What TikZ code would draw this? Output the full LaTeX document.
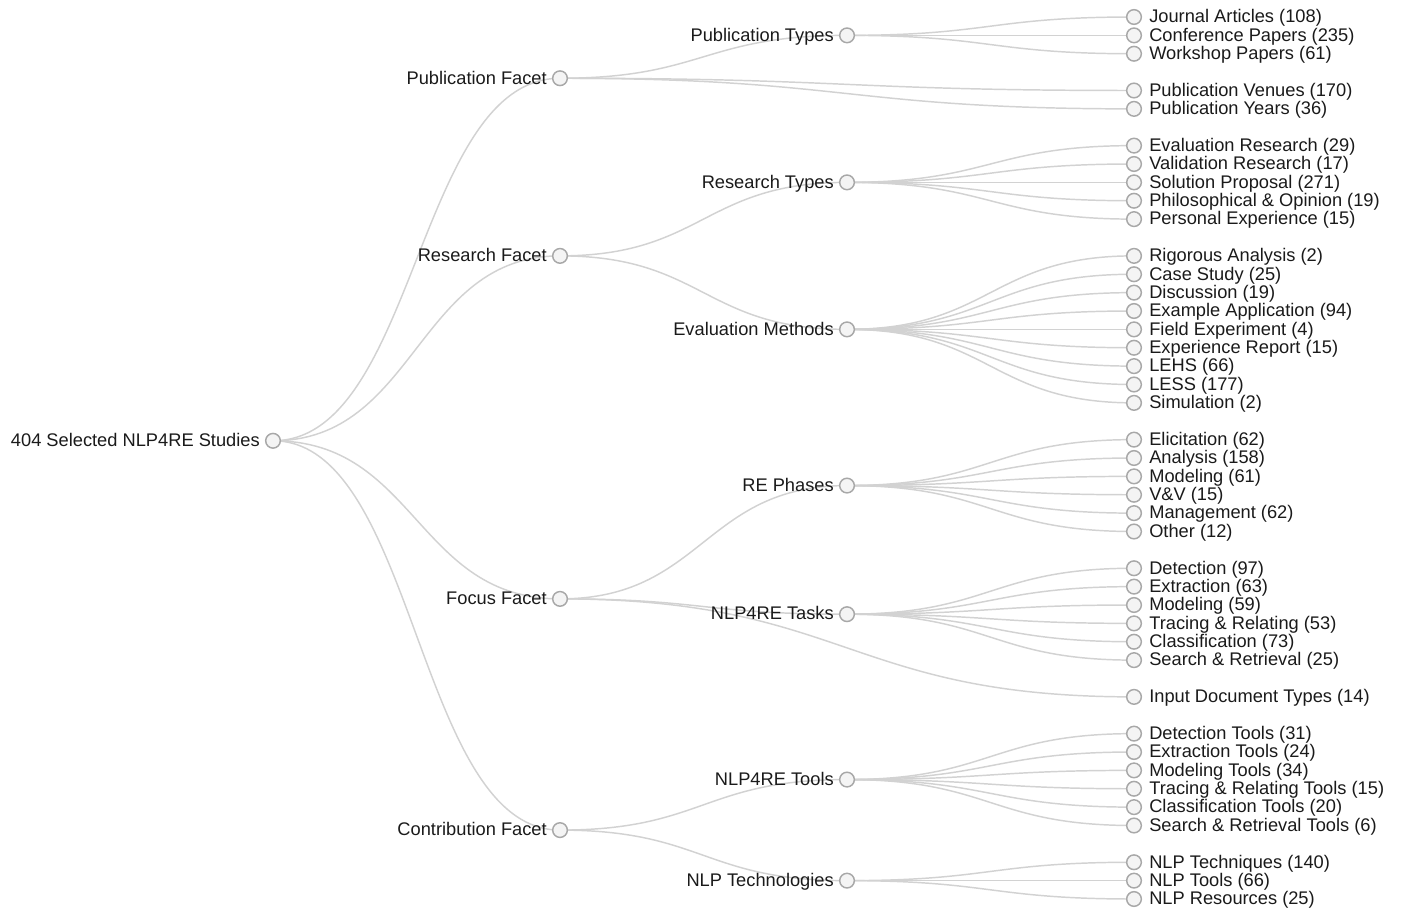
\documentclass[tikz,border=0pt]{standalone}
\usepackage{fontspec}
\setmainfont{Liberation Sans}
\usetikzlibrary{calc,backgrounds}
\definecolor{linkc}{HTML}{D2D2D2}
\definecolor{dotc}{HTML}{A8A8A8}
\definecolor{dotf}{HTML}{F4F4F4}
\definecolor{txtc}{HTML}{1A1A1A}
\tikzset{
  dot/.style={circle, draw=dotc, fill=dotf, line width=1.1pt, minimum size=11pt, inner sep=0pt},
  lblr/.style={anchor=base west, inner sep=0pt, text=txtc, font=\fontsize{13.7}{16}\selectfont},
  lbll/.style={anchor=base east, inner sep=0pt, text=txtc, font=\fontsize{13.7}{16}\selectfont},
  link/.style={draw=linkc, line width=1.1pt},
}
\newcommand\leafnode[3]{%
  \node[dot] (#1) at (1134,{17+#2*18.375}) {};
  \node[lblr] (#1-t) at ([shift={(15,5.8)}]#1.center) {#3};}
\newcommand\innode[4]{%
  \node[dot] (#1) at (#2,{17+#3*18.375}) {};
  \node[lbll] (#1-t) at ([shift={(-13,5.8)}]#1.center) {#4};}
\newcommand\lnk[2]{%
  \draw[link] let \p1=(#1.center), \p2=(#2.center) in
    (\p1) .. controls ({(\x1+\x2)/2},\y1) and ({(\x1+\x2)/2},\y2) .. (\p2);}
\begin{document}
\begin{tikzpicture}[x=0.75pt,y=-0.75pt]
\useasboundingbox (0,0) rectangle (1401,909);
% root and level 1
\innode{root}{273}{23.0625}{404 Selected NLP4RE Studies}
\innode{pf}{560}{3.33333}{Publication Facet}
\innode{rf}{560}{13}{Research Facet}
\innode{ff}{560}{31.66667}{Focus Facet}
\innode{cf}{560}{44.25}{Contribution Facet}
% level 2
\innode{pt}{847}{1}{Publication Types}
\innode{rt}{847}{9}{Research Types}
\innode{em}{847}{17}{Evaluation Methods}
\innode{rp}{847}{25.5}{RE Phases}
\innode{nt}{847}{32.5}{NLP4RE Tasks}
\innode{tl}{847}{41.5}{NLP4RE Tools}
\innode{tc}{847}{47}{NLP Technologies}
% leaves
\leafnode{ja}{0}{Journal Articles (108)}
\leafnode{cp}{1}{Conference Papers (235)}
\leafnode{wp}{2}{Workshop Papers (61)}
\leafnode{pv}{4}{Publication Venues (170)}
\leafnode{py}{5}{Publication Years (36)}
\leafnode{er}{7}{Evaluation Research (29)}
\leafnode{vr}{8}{Validation Research (17)}
\leafnode{sp}{9}{Solution Proposal (271)}
\leafnode{po}{10}{Philosophical \& Opinion (19)}
\leafnode{pe}{11}{Personal Experience (15)}
\leafnode{ra}{13}{Rigorous Analysis (2)}
\leafnode{cs}{14}{Case Study (25)}
\leafnode{di}{15}{Discussion (19)}
\leafnode{ea}{16}{Example Application (94)}
\leafnode{fe}{17}{Field Experiment (4)}
\leafnode{xr}{18}{Experience Report (15)}
\leafnode{lh}{19}{LEHS (66)}
\leafnode{ls}{20}{LESS (177)}
\leafnode{si}{21}{Simulation (2)}
\leafnode{el}{23}{Elicitation (62)}
\leafnode{an}{24}{Analysis (158)}
\leafnode{mo}{25}{Modeling (61)}
\leafnode{vv}{26}{V\&V (15)}
\leafnode{ma}{27}{Management (62)}
\leafnode{ot}{28}{Other (12)}
\leafnode{de}{30}{Detection (97)}
\leafnode{ex}{31}{Extraction (63)}
\leafnode{md}{32}{Modeling (59)}
\leafnode{tr}{33}{Tracing \& Relating (53)}
\leafnode{cl}{34}{Classification (73)}
\leafnode{sr}{35}{Search \& Retrieval (25)}
\leafnode{id}{37}{Input Document Types (14)}
\leafnode{dt}{39}{Detection Tools (31)}
\leafnode{et}{40}{Extraction Tools (24)}
\leafnode{mt}{41}{Modeling Tools (34)}
\leafnode{tt}{42}{Tracing \& Relating Tools (15)}
\leafnode{ct}{43}{Classification Tools (20)}
\leafnode{st}{44}{Search \& Retrieval Tools (6)}
\leafnode{nq}{46}{NLP Techniques (140)}
\leafnode{nl}{47}{NLP Tools (66)}
\leafnode{nr}{48}{NLP Resources (25)}
\begin{pgfonlayer}{background}
\foreach \c in {pf,rf,ff,cf} {\lnk{root}{\c}}
\foreach \c in {pt,pv,py} {\lnk{pf}{\c}}
\foreach \c in {ja,cp,wp} {\lnk{pt}{\c}}
\foreach \c in {rt,em} {\lnk{rf}{\c}}
\foreach \c in {er,vr,sp,po,pe} {\lnk{rt}{\c}}
\foreach \c in {ra,cs,di,ea,fe,xr,lh,ls,si} {\lnk{em}{\c}}
\foreach \c in {rp,nt,id} {\lnk{ff}{\c}}
\foreach \c in {el,an,mo,vv,ma,ot} {\lnk{rp}{\c}}
\foreach \c in {de,ex,md,tr,cl,sr} {\lnk{nt}{\c}}
\foreach \c in {tl,tc} {\lnk{cf}{\c}}
\foreach \c in {dt,et,mt,tt,ct,st} {\lnk{tl}{\c}}
\foreach \c in {nq,nl,nr} {\lnk{tc}{\c}}
\end{pgfonlayer}
\end{tikzpicture}
\end{document}
